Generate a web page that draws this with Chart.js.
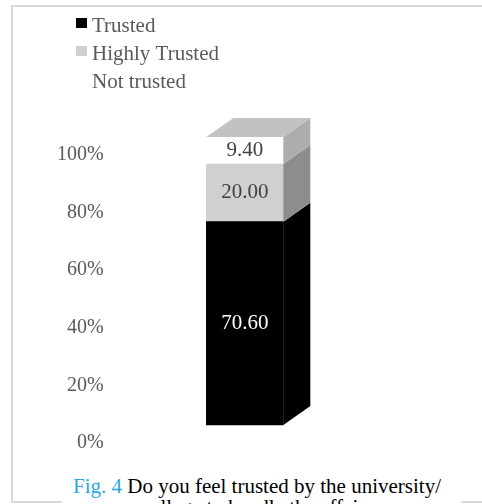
<!DOCTYPE html>
<html>
<head>
<meta charset="utf-8">
<script src="https://cdn.jsdelivr.net/npm/chart.js@4"></script>
<style>
  html, body { margin: 0; padding: 0; background: #fff; overflow: hidden; }
  body { width: 482px; height: 504px; position: relative; }
  #frame { position: absolute; left: 11px; top: 5px; width: 520px; height: 498px; box-sizing: border-box; border: 2px solid #dadada; }
  #myChart { position: absolute; left: 0; top: 0; }
  #caption { position: absolute; left: 62px; top: 476px; width: 399px; height: 60px; padding-right: 9px; box-sizing: border-box;
             background: #fff; font-family: 'Liberation Serif', 'Times New Roman', serif; font-size: 21px; line-height: 21px;
             text-align: center; color: #000; white-space: nowrap; overflow: hidden; }
  #caption .fig { color: #29a9e1; }
</style>
</head>
<body>
<div id="frame"></div>
<canvas id="myChart" width="482" height="504"></canvas>
<div id="caption"><span class="fig">Fig. 4</span> Do you feel trusted by the university/<br>college to handle the affairs</div>
<script>
// ---- data ----
const categories = ["Trust"];
const trusted = [70.6];
const highlyTrusted = [20.0];
const notTrusted = [9.4];
const seriesNames = ["Trusted", "Highly Trusted", "Not trusted"];
const tickValues = [0, 20, 40, 60, 80, 100];

const FONT = "'Liberation Serif', 'Times New Roman', serif";
const DX = 27, DY = 19;   // 3d depth

// draws the side / top faces of the 3d column and the value labels
const box3d = {
  id: 'box3d',
  afterDatasetsDraw(chart) {
    const ctx = chart.ctx;
    const n = chart.data.datasets.length;
    ctx.save();
    chart.data.datasets.forEach((ds, i) => {
      chart.getDatasetMeta(i).data.forEach(bar => {
        const l = bar.x - bar.width / 2, r = bar.x + bar.width / 2;
        const t = Math.min(bar.y, bar.base), b = Math.max(bar.y, bar.base);
        ctx.fillStyle = ds.sideColor;
        ctx.beginPath();
        ctx.moveTo(r, t);
        ctx.lineTo(r + DX, t - DY);
        ctx.lineTo(r + DX, b - DY);
        ctx.lineTo(r, b);
        ctx.closePath();
        ctx.fill();
        if (i === n - 1) {
          ctx.fillStyle = ds.topColor;
          ctx.beginPath();
          ctx.moveTo(l, t);
          ctx.lineTo(l + DX, t - DY);
          ctx.lineTo(r + DX, t - DY);
          ctx.lineTo(r, t);
          ctx.closePath();
          ctx.fill();
        }
      });
    });
    // value labels
    ctx.font = '21px ' + FONT;
    ctx.textAlign = 'center';
    ctx.textBaseline = 'middle';
    chart.data.datasets.forEach((ds, i) => {
      chart.getDatasetMeta(i).data.forEach((bar, j) => {
        ctx.fillStyle = ds.labelColor;
        ctx.fillText(ds.data[j].toFixed(2), bar.x, (bar.y + bar.base) / 2);
      });
    });
    ctx.restore();
  },
  afterDraw(chart) {
    // legend, stacked top-left
    const ctx = chart.ctx;
    ctx.save();
    ctx.font = '21px ' + FONT;
    ctx.textAlign = 'left';
    ctx.textBaseline = 'alphabetic';
    chart.data.datasets.forEach((ds, i) => {
      const base = 32 + i * 28;
      ctx.fillStyle = ds.backgroundColor;
      ctx.fillRect(76, base - 14, 11, 10);
      ctx.fillStyle = '#595959';
      ctx.fillText(ds.label, 92, base);
    });
    ctx.restore();
  }
};

new Chart("myChart", {
  type: "bar",
  data: {
    labels: categories,
    datasets: [
      { label: seriesNames[0], data: trusted, backgroundColor: "#000000", sideColor: "#000000", topColor: "#1a1a1a", labelColor: "#ffffff" },
      { label: seriesNames[1], data: highlyTrusted, backgroundColor: "#d0d0d0", sideColor: "#8d8d8d", topColor: "#c2c2c2", labelColor: "#404040" },
      { label: seriesNames[2], data: notTrusted, backgroundColor: "#ffffff", sideColor: "#adadad", topColor: "#c2c2c2", labelColor: "#404040" }
    ]
  },
  options: {
    responsive: false,
    animation: false,
    layout: { padding: { top: 137, bottom: 61, left: 47, right: 106 } },
    plugins: { legend: { display: false }, tooltip: { enabled: false } },
    datasets: { bar: { barThickness: 77, borderWidth: 0 } },
    scales: {
      x: { stacked: true, display: false },
      y: { stacked: true, display: false, min: -6.25, max: 100 },
      y2: {
        position: 'left',
        min: 0,
        max: 106.25,
        afterBuildTicks: s => { s.ticks = tickValues.map(v => ({ value: v })); },
        grid: { display: false, drawTicks: false },
        border: { display: false },
        ticks: {
          padding: 10,
          color: '#595959',
          font: { family: FONT, size: 20 },
          callback: v => v + '%'
        }
      }
    }
  },
  plugins: [box3d]
});
</script>
</body>
</html>
